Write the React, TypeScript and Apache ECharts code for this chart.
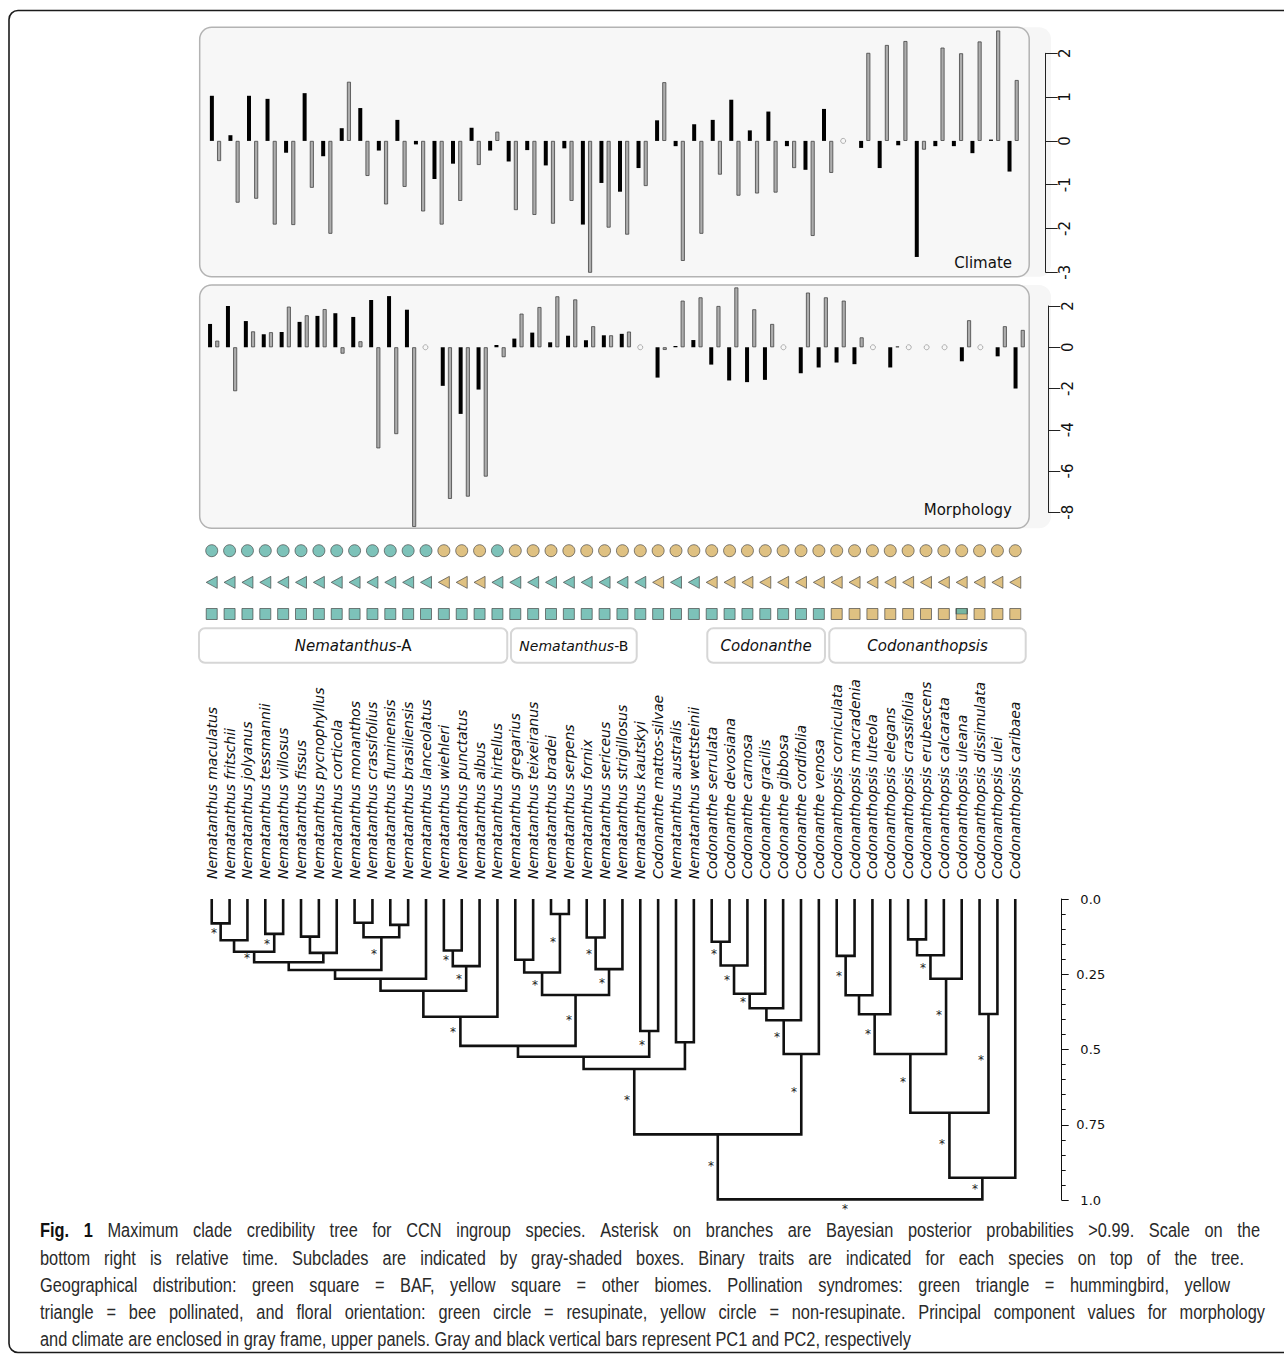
import React, { useEffect, useRef } from "react";
import * as echarts from "echarts";

// ---------------- DATA ----------------
const SPECIES = [
  "Nematanthus maculatus", "Nematanthus fritschii", "Nematanthus jolyanus", "Nematanthus tessmannii",
  "Nematanthus villosus", "Nematanthus fissus", "Nematanthus pycnophyllus", "Nematanthus corticola",
  "Nematanthus monanthos", "Nematanthus crassifolius", "Nematanthus fluminensis", "Nematanthus brasiliensis",
  "Nematanthus lanceolatus", "Nematanthus wiehleri", "Nematanthus punctatus", "Nematanthus albus",
  "Nematanthus hirtellus", "Nematanthus gregarius", "Nematanthus teixeiranus", "Nematanthus bradei",
  "Nematanthus serpens", "Nematanthus fornix", "Nematanthus sericeus", "Nematanthus strigillosus",
  "Nematanthus kautskyi", "Codonanthe mattos-silvae", "Nematanthus australis", "Nematanthus wettsteinii",
  "Codonanthe serrulata", "Codonanthe devosiana", "Codonanthe carnosa", "Codonanthe gracilis",
  "Codonanthe gibbosa", "Codonanthe cordifolia", "Codonanthe venosa", "Codonanthopsis corniculata",
  "Codonanthopsis macradenia", "Codonanthopsis luteola", "Codonanthopsis elegans", "Codonanthopsis crassifolia",
  "Codonanthopsis erubescens", "Codonanthopsis calcarata", "Codonanthopsis uleana", "Codonanthopsis dissimulata",
  "Codonanthopsis ulei", "Codonanthopsis caribaea",
];

// Climate panel (44 plotted slots as drawn in the figure); gray = PC1, black = PC2
const CLIMATE_PC1 = [
  -0.46, -1.41, -1.32, -1.91, -1.92, -1.07, -2.12, 1.35, -0.8, -1.45,
  -1.05, -1.61, -1.91, -1.37, -0.55, 0.21, -1.58, -1.69, -1.89, -1.37,
  -3.01, -1.98, -2.14, -1.03, 1.34, -2.74, -2.12, -0.77, -1.25, -1.2,
  -1.18, -0.62, -2.17, -0.73, null, 2.01, 2.19, 2.28, -0.2, 2.13,
  2.0, 2.27, 2.52, 1.39,
];
const CLIMATE_PC2 = [
  1.03, 0.13, 1.03, 0.96, -0.27, 1.09, -0.35, 0.29, 0.75, -0.22,
  0.48, -0.08, -0.87, -0.52, 0.3, -0.22, -0.47, -0.21, -0.56, -0.17,
  -1.91, -0.96, -1.16, -0.62, 0.47, -0.12, 0.38, 0.48, 0.94, 0.24,
  0.67, -0.12, -0.66, 0.73, null, -0.16, -0.62, -0.1, -2.65, -0.12,
  -0.12, -0.28, 0.03, -0.7,
];

// Morphology panel (one slot per species); gray = PC1, black = PC2
const MORPH_PC1 = [
  0.32, -2.13, 0.77, 0.73, 1.97, 1.55, 1.85, -0.31, 0.29, -4.9,
  -4.21, -8.71, null, -7.35, -7.24, -6.27, -0.48, 1.63, 1.95, 2.47,
  2.32, 1.02, 0.58, 0.76, null, -0.13, 2.26, 2.42, 2.0, 2.9,
  1.84, 1.13, null, 2.65, 2.42, 2.26, 0.48, null, 0.04, null,
  null, null, 1.31, null, 1.02, 0.84,
];
const MORPH_PC2 = [
  1.13, 2.0, 1.27, 0.63, 0.74, 1.23, 1.52, 1.65, 1.47, 2.29,
  2.48, 1.82, null, -1.87, -3.23, -2.05, 0.11, 0.42, 0.71, 0.24,
  0.56, 0.34, 0.58, 0.65, null, -1.47, 0.06, 0.35, -0.84, -1.61,
  -1.69, -1.58, null, -1.26, -0.98, -0.74, -0.82, null, -0.98, null,
  null, null, -0.68, null, -0.44, -2.0,
];

// Binary traits: 1 = green state, 0 = yellow state, 0.5 = both
const RESUPINATE = [
  1, 1, 1, 1, 1, 1, 1, 1, 1, 1, 1, 1, 1, 0, 0, 0, 1, 0, 0, 0, 0, 0, 0,
  0, 0, 0, 0, 0, 0, 0, 0, 0, 0, 0, 0, 0, 0, 0, 0, 0, 0, 0, 0, 0, 0, 0,
];
const HUMMINGBIRD = [
  1, 1, 1, 1, 1, 1, 1, 1, 1, 1, 1, 1, 1, 0, 0, 0, 1, 1, 1, 1, 1, 1, 1,
  1, 1, 0, 1, 1, 0, 0, 0, 0, 0, 0, 0, 0, 0, 0, 0, 0, 0, 0, 0, 0, 0, 0,
];
const BAF = [
  1, 1, 1, 1, 1, 1, 1, 1, 1, 1, 1, 1, 1, 1, 1, 1, 1, 1, 1, 1, 1, 1, 1,
  1, 1, 1, 1, 1, 1, 1, 1, 1, 1, 1, 1, 0, 0, 0, 0, 0, 0, 0, 0.5, 0, 0, 0,
];

// Subclades: [genus (italic), suffix, first species index, last species index]
const CLADES: [string, string, number, number][] = [
  ["Nematanthus", "-A", 0, 16],
  ["Nematanthus", "-B", 17, 24],
  ["Codonanthe", "", 28, 34],
  ["Codonanthopsis", "", 35, 45],
];

// Tree: [node id, child A, child B, relative age, posterior > 0.99 (1/0)]
// numeric children = species index, string children = internal node id
const TREE_NODES: [string, number | string, number | string, number, number][] = [
  ["n1", 0, 1, 0.081, 1],
  ["n2", "n1", 2, 0.137, 0],
  ["n3", 3, 4, 0.116, 1],
  ["n4", "n2", "n3", 0.175, 1],
  ["n5", 5, 6, 0.125, 0],
  ["n6", "n5", 7, 0.179, 0],
  ["n7", "n4", "n6", 0.21, 0],
  ["n8", 8, 9, 0.079, 0],
  ["n9", 10, 11, 0.086, 0],
  ["n10", "n8", "n9", 0.127, 1],
  ["n11", "n7", "n10", 0.236, 0],
  ["n12", "n11", 12, 0.265, 0],
  ["n13", 13, 14, 0.171, 1],
  ["n14", "n13", 15, 0.223, 1],
  ["n15", "n12", "n14", 0.305, 0],
  ["n16", "n15", 16, 0.391, 1],
  ["n17", 17, 18, 0.202, 0],
  ["n18", 19, 20, 0.05, 1],
  ["n19", "n17", "n18", 0.244, 1],
  ["n20", 21, 22, 0.128, 1],
  ["n21", "n20", 23, 0.233, 1],
  ["n22", "n19", "n21", 0.319, 1],
  ["n23", "n16", "n22", 0.488, 0],
  ["n24", 24, 25, 0.4385, 1],
  ["n25", "n23", "n24", 0.524, 0],
  ["n26", 26, 27, 0.476, 0],
  ["n27", "n25", "n26", 0.565, 1],
  ["n28", 28, 29, 0.142, 1],
  ["n29", "n28", 30, 0.221, 1],
  ["n30", "n29", 31, 0.315, 1],
  ["n31", "n30", 32, 0.363, 0],
  ["n32", "n31", 33, 0.403, 1],
  ["n33", "n32", 34, 0.515, 1],
  ["n34", "n27", "n33", 0.782, 1],
  ["n35", 35, 36, 0.189, 1],
  ["n36", "n35", 37, 0.32, 0],
  ["n37", "n36", 38, 0.383, 1],
  ["n38", 39, 40, 0.134, 0],
  ["n39", "n38", 41, 0.187, 1],
  ["n40", "n39", 42, 0.265, 1],
  ["n41", "n37", "n40", 0.515, 1],
  ["n42", 43, 44, 0.382, 1],
  ["n43", "n41", "n42", 0.71, 1],
  ["n44", "n43", 45, 0.926, 1],
  ["root", "n34", "n44", 0.998, 1],
];

const CAPTION_BOLD = "Fig. 1";
const CAPTION_LINES = [
  "Maximum clade credibility tree for CCN ingroup species. Asterisk on branches are Bayesian posterior probabilities >0.99. Scale on the",
  "bottom right is relative time. Subclades are indicated by gray-shaded boxes. Binary traits are indicated for each species on top of the tree.",
  "Geographical distribution: green square = BAF, yellow square = other biomes. Pollination syndromes: green triangle = hummingbird, yellow",
  "triangle = bee pollinated, and floral orientation: green circle = resupinate, yellow circle = non-resupinate. Principal component values for morphology",
  "and climate are enclosed in gray frame, upper panels. Gray and black vertical bars represent PC1 and PC2, respectively",
];

// ---------------- STYLE / LAYOUT ----------------
const GREEN = "#5cb3a8";
const YELLOW = "#d7b163";
const BAR_GRAY = "#adadad";
const FONT = '"DejaVu Sans", sans-serif';
const CAPTION_FONT = '"Liberation Sans Narrow", "Liberation Sans", sans-serif';
const CAPTION_SIZE = 20;
const CAPTION_X = 40;
const CAPTION_LINE_WIDTHS = [1220, 1204, 1190, 1225, 871]; // first four lines are justified
const CAPTION_LINE_Y = [1230, 1257.5, 1285, 1312, 1339];
const CLADE_BOX_INSET: [number, number][] = [[-3.8, 0.9], [4.6, -12.5], [4.5, -2.8], [1.5, 1.5]];

// ---------------- TREE HELPERS ----------------
const nodeById: Record<string, { a: number | string; b: number | string; h: number; s: number }> = {};
const parentOf: Record<string, string> = {};
TREE_NODES.forEach(([id, a, b, h, s]) => {
  nodeById[id] = { a, b, h, s };
  if (typeof a === "string") parentOf[a] = id;
  if (typeof b === "string") parentOf[b] = id;
});
function posOf(ref: number | string): { x: number; h: number } {
  if (typeof ref === "number") return { x: ref, h: 0 };
  const n = nodeById[ref];
  return { x: (posOf(n.a).x + posOf(n.b).x) / 2, h: n.h };
}

function naPoints(a: (number | null)[], b: (number | null)[]) {
  const out: number[][] = [];
  a.forEach((v, i) => {
    if (v == null && b[i] == null) out.push([i, 0]);
  });
  return out;
}

function buildOption() {
  const climateCats = CLIMATE_PC1.map((_, i) => String(i + 1));
  const valueAxisCommon = {
    type: "value",
    position: "right",
    axisLine: { show: true, onZero: false, lineStyle: { color: "#222", width: 1 } },
    axisTick: { show: true, length: 12, lineStyle: { color: "#222", width: 1 } },
    axisLabel: { rotate: 90, margin: 12, fontSize: 15, fontFamily: FONT, color: "#111" },
    splitLine: { show: false },
  };
  const barCommon = { barWidth: 4, barGap: "80%", clip: false, silent: true };
  const naCommon = {
    type: "scatter",
    symbol: "circle",
    symbolSize: 5,
    symbolOffset: [-3, 0],
    itemStyle: { color: "rgba(0,0,0,0)", borderColor: "#888", borderWidth: 0.8 },
    silent: true,
  };
  const symBorder = { borderColor: "#3a3a3a", borderWidth: 0.8 };

  return {
    animation: false,
    grid: [
      { left: 206.2, top: 53.3, width: 816.2, height: 219 },
      { left: 204.7, top: 306, width: 823.4, height: 206.3 },
      { left: 202.8, top: 550.7, width: 821.4, height: 63.3 },
      { left: 202.8, top: 899, width: 821.4, height: 301 },
    ],
    xAxis: [
      { type: "category", gridIndex: 0, data: climateCats, show: false },
      { type: "category", gridIndex: 1, data: SPECIES, show: false },
      { type: "category", gridIndex: 2, data: SPECIES, show: false },
      {
        type: "category",
        gridIndex: 3,
        data: SPECIES,
        position: "top",
        axisLine: { show: false },
        axisTick: { show: false },
        axisLabel: {
          interval: 0,
          rotate: 90,
          margin: 20,
          fontSize: 14,
          fontStyle: "italic",
          fontFamily: FONT,
          color: "#111",
        },
      },
      { type: "value", gridIndex: 3, min: -0.5, max: SPECIES.length - 0.5, show: false },
    ],
    yAxis: [
      { ...valueAxisCommon, gridIndex: 0, min: -3, max: 2, interval: 1, offset: 23.3 },
      { ...valueAxisCommon, gridIndex: 1, min: -8, max: 2, interval: 2, offset: 20.2 },
      { type: "value", gridIndex: 2, min: 0, max: 2, show: false },
      {
        type: "value",
        gridIndex: 3,
        min: 0,
        max: 1,
        interval: 0.25,
        inverse: true,
        position: "right",
        offset: 37.5,
        axisLine: { show: true, onZero: false, lineStyle: { color: "#111", width: 1 } },
        axisTick: { show: true, length: 7, lineStyle: { color: "#111" } },
        minorTick: { show: true, splitNumber: 5, length: 4, lineStyle: { color: "#111" } },
        splitLine: { show: false },
        minorSplitLine: { show: false },
        axisLabel: {
          margin: 29,
          align: "center",
          fontSize: 13,
          fontFamily: FONT,
          color: "#111",
          formatter: (v: number) => (v === 0 ? "0.0" : v === 1 ? "1.0" : String(v)),
        },
      },
    ],
    series: [
      // climate
      { ...barCommon, type: "bar", xAxisIndex: 0, yAxisIndex: 0, data: CLIMATE_PC2, itemStyle: { color: "#000" } },
      {
        ...barCommon,
        type: "bar",
        xAxisIndex: 0,
        yAxisIndex: 0,
        data: CLIMATE_PC1,
        itemStyle: { color: BAR_GRAY, borderColor: "#444", borderWidth: 0.8 },
      },
      { ...naCommon, xAxisIndex: 0, yAxisIndex: 0, data: naPoints(CLIMATE_PC1, CLIMATE_PC2) },
      // morphology
      { ...barCommon, type: "bar", xAxisIndex: 1, yAxisIndex: 1, data: MORPH_PC2, itemStyle: { color: "#000" } },
      {
        ...barCommon,
        type: "bar",
        xAxisIndex: 1,
        yAxisIndex: 1,
        data: MORPH_PC1,
        itemStyle: { color: BAR_GRAY, borderColor: "#444", borderWidth: 0.8 },
      },
      { ...naCommon, xAxisIndex: 1, yAxisIndex: 1, data: naPoints(MORPH_PC1, MORPH_PC2) },
      // traits
      {
        type: "scatter",
        xAxisIndex: 2,
        yAxisIndex: 2,
        symbol: "circle",
        symbolSize: 12,
        silent: true,
        data: RESUPINATE.map((v, i) => ({ value: [i, 2], itemStyle: { color: v ? GREEN : YELLOW, ...symBorder } })),
      },
      {
        type: "scatter",
        xAxisIndex: 2,
        yAxisIndex: 2,
        symbol: "path://M0,6 L11,0 L11,12 Z",
        symbolSize: [11, 12],
        silent: true,
        data: HUMMINGBIRD.map((v, i) => ({ value: [i, 1], itemStyle: { color: v ? GREEN : YELLOW, ...symBorder } })),
      },
      {
        type: "scatter",
        xAxisIndex: 2,
        yAxisIndex: 2,
        symbol: "rect",
        symbolSize: 11,
        silent: true,
        data: BAF.map((v, i) => ({ value: [i, 0], itemStyle: { color: v === 1 ? GREEN : YELLOW, ...symBorder } })),
      },
      {
        type: "scatter",
        xAxisIndex: 2,
        yAxisIndex: 2,
        symbol: "path://M0,0 L10,0 L10,5 L0,5 Z",
        symbolSize: [11, 5.5],
        symbolOffset: [0, -2.75],
        silent: true,
        data: BAF.map((v, i) => (v === 0.5 ? [i, 0] : null)).filter((d) => d),
        itemStyle: { color: GREEN, ...symBorder },
      },
      // tree
      {
        type: "custom",
        xAxisIndex: 4,
        yAxisIndex: 3,
        silent: true,
        clip: false,
        data: TREE_NODES.map(([id, , , h]) => [posOf(id).x, h]),
        renderItem: (params: any, api: any) => {
          const [id, a, b, h, s] = TREE_NODES[params.dataIndex];
          const pa = posOf(a);
          const pb = posOf(b);
          const pts = [
            api.coord([pa.x, pa.h]),
            api.coord([pa.x, h]),
            api.coord([pb.x, h]),
            api.coord([pb.x, pb.h]),
          ];
          const children: any[] = [
            {
              type: "polyline",
              shape: { points: pts },
              style: { stroke: "#111", lineWidth: 2.6, fill: "none", lineJoin: "miter", lineCap: "butt" },
            },
          ];
          if (s) {
            const me = api.coord([posOf(id).x, h]);
            const par = parentOf[id];
            let ax = me[0] - 7;
            let ay = me[1] + 8;
            if (par) {
              const py = api.coord([posOf(id).x, nodeById[par].h])[1];
              ay = me[1] + 0.45 * (py - me[1]);
            } else {
              ax = me[0] - 5;
            }
            children.push({
              type: "text",
              x: Math.round(ax),
              y: Math.round(ay + 2),
              style: {
                text: "*",
                fontSize: 12,
                fontFamily: FONT,
                fill: "#222",
                align: "center",
                verticalAlign: "middle",
              },
            });
          }
          return { type: "group", children };
        },
      },
    ],
  };
}

function measure(text: string, font: string) {
  const ctx = document.createElement("canvas").getContext("2d");
  if (!ctx) return text.length * 8;
  ctx.font = font;
  return ctx.measureText(text).width;
}

function buildGraphic(chart: any) {
  const px = (v: number) => chart.convertToPixel({ xAxisIndex: 4 }, v) as number;
  const els: any[] = [];
  // outer frame
  els.push({
    type: "rect",
    z: 0,
    silent: true,
    shape: { x: 9, y: 10.5, width: 1290, height: 1342, r: 9 },
    style: { fill: "none", stroke: "#1b1b1b", lineWidth: 1.6 },
  });
  // panel backgrounds
  const panels = [
    { y0: 27.3, y1: 276.7, label: "Climate", ly: 262.7 },
    { y0: 285, y1: 528.3, label: "Morphology", ly: 510 },
  ];
  panels.forEach((p) => {
    els.push({
      type: "rect",
      z: 0,
      silent: true,
      shape: { x: 990, y: p.y0, width: 61, height: p.y1 - p.y0, r: 12 },
      style: { fill: "#f6f6f6", stroke: "none" },
    });
    els.push({
      type: "rect",
      z: 0,
      silent: true,
      shape: { x: 199.7, y: p.y0, width: 829.5, height: p.y1 - p.y0, r: 12 },
      style: { fill: "#f7f7f7", stroke: "#b3b3b3", lineWidth: 1.5 },
    });
    els.push({
      type: "text",
      z: 5,
      silent: true,
      x: 1012,
      y: p.ly,
      style: { text: p.label, fontSize: 15, fontFamily: FONT, fill: "#111", align: "right", verticalAlign: "middle" },
    });
  });
  // clade boxes
  CLADES.forEach(([genus, suffix, first, last], i) => {
    const x0 = px(first - 0.5) + CLADE_BOX_INSET[i][0];
    const x1 = px(last + 0.5) + CLADE_BOX_INSET[i][1];
    els.push({
      type: "rect",
      z: 0,
      silent: true,
      shape: { x: x0, y: 628.3, width: x1 - x0, height: 34.4, r: 6 },
      style: { fill: "#fff", stroke: "#d6d6d6", lineWidth: 2 },
    });
    const fs = suffix === "-B" ? 14 : 15;
    els.push({
      type: "text",
      z: 5,
      silent: true,
      x: (x0 + x1) / 2,
      y: 645.5,
      style: {
        text: `{i|${genus}}` + (suffix ? `{r|${suffix}}` : ""),
        align: "center",
        verticalAlign: "middle",
        fontSize: fs,
        fontFamily: FONT,
        fill: "#111",
        rich: {
          i: { fontSize: fs, fontFamily: FONT, fontStyle: "italic", fill: "#111" },
          r: { fontSize: fs, fontFamily: FONT, fill: "#111" },
        },
      },
    });
  });

  // caption: condensed by the density of the (unjustified) last line; other lines justified word by word
  const fReg = `${CAPTION_SIZE}px ${CAPTION_FONT}`;
  const fBold = `bold ${CAPTION_SIZE}px ${CAPTION_FONT}`;
  const last = CAPTION_LINES.length - 1;
  const sx = CAPTION_LINE_WIDTHS[last] / measure(CAPTION_LINES[last], fReg);
  const wordEl = (text: string, x: number, y: number, bold: boolean) => ({
    type: "text",
    z: 5,
    silent: true,
    x,
    y,
    scaleX: sx,
    style: {
      text,
      fontSize: CAPTION_SIZE,
      fontFamily: CAPTION_FONT,
      fontWeight: bold ? "bold" : "normal",
      fill: bold ? "#111" : "#2a2a2a",
      align: "left",
      verticalAlign: "middle",
    },
  });
  CAPTION_LINES.forEach((line, i) => {
    const y = CAPTION_LINE_Y[i];
    if (i === last) {
      els.push(wordEl(line, CAPTION_X, y, false));
      return;
    }
    const words: { t: string; b: boolean }[] = [];
    if (i === 0) CAPTION_BOLD.split(" ").forEach((t) => words.push({ t, b: true }));
    line.split(" ").forEach((t) => words.push({ t, b: false }));
    const widths = words.map((w) => measure(w.t, w.b ? fBold : fReg) * sx);
    const total = widths.reduce((s, v) => s + v, 0);
    const gap = (CAPTION_LINE_WIDTHS[i] - total) / (words.length - 1);
    let x = CAPTION_X;
    words.forEach((w, k) => {
      els.push(wordEl(w.t, x, y, w.b));
      x += widths[k] + gap;
    });
  });
  return els;
}

export default function App() {
  const ref = useRef<HTMLDivElement>(null);
  useEffect(() => {
    if (!ref.current) return;
    const chart = echarts.init(ref.current, null, { renderer: "svg" });
    chart.setOption(buildOption() as any);
    chart.setOption({ graphic: buildGraphic(chart) } as any);
    return () => chart.dispose();
  }, []);
  return (
    <div
      ref={ref}
      style={{ position: "fixed", left: 0, top: 0, width: 1284, height: 1358, background: "#fff" }}
    />
  );
}
